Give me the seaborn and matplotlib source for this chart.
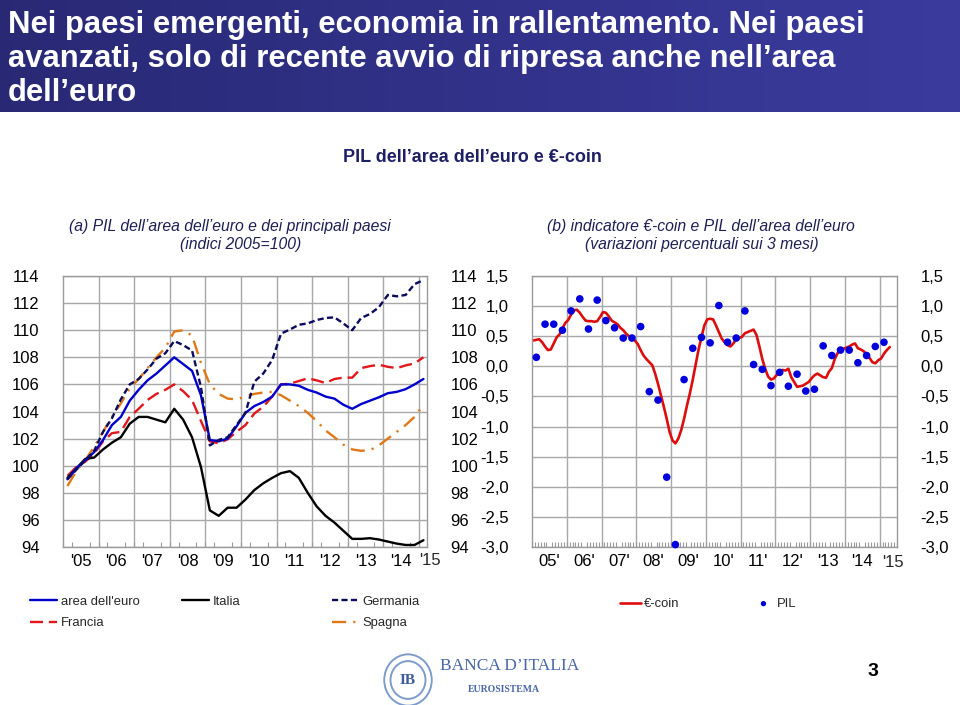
import matplotlib
matplotlib.use("Agg")
import matplotlib.pyplot as plt
from matplotlib import font_manager as fm
from matplotlib.patches import Ellipse
import numpy as np
import pandas as pd
import seaborn as sns

# ---------------- data ----------------
years = list(range(2005, 2016))
quarters = [f"{y}Q{q}" for y in years for q in (1, 2, 3, 4)][:41]

area_euro = [99.0, 99.8, 100.4, 101.0, 101.9, 103.0, 103.6, 104.8, 105.6, 106.3,
             106.8, 107.4, 108.0, 107.5, 107.0, 105.2, 101.9, 101.8, 102.0, 102.9,
             103.9, 104.4, 104.7, 105.1, 106.0, 106.0, 105.9, 105.6, 105.4, 105.1,
             104.95, 104.5, 104.2, 104.55, 104.8, 105.05, 105.35, 105.45, 105.65, 106.0,
             106.4]
italia = [99.1, 99.8, 100.5, 100.6, 101.2, 101.7, 102.1, 103.1, 103.6, 103.6,
          103.4, 103.2, 104.2, 103.4, 102.1, 99.9, 96.7, 96.3, 96.9, 96.9,
          97.5, 98.2, 98.7, 99.1, 99.45, 99.6, 99.1, 98.0, 97.0, 96.3,
          95.8, 95.2, 94.6, 94.6, 94.65, 94.55, 94.4, 94.25, 94.15, 94.15,
          94.5]
germania = [99.0, 99.7, 100.4, 101.1, 102.5, 103.5, 104.9, 106.0, 106.4, 107.1,
            107.9, 108.3, 109.2, 108.9, 108.5, 105.8, 101.5, 101.9, 102.1, 103.0,
            103.9, 106.2, 106.8, 107.8, 109.75, 110.05, 110.4, 110.5, 110.75, 110.9,
            110.95, 110.5, 110.0, 110.9, 111.2, 111.7, 112.6, 112.5, 112.6, 113.4,
            113.7]
francia = [99.25, 99.9, 100.3, 100.9, 101.8, 102.4, 102.5, 103.6, 104.2, 104.85,
           105.3, 105.6, 106.0, 105.5, 104.85, 103.3, 101.8, 101.65, 101.95, 102.5,
           103.0, 103.85, 104.35, 105.1, 106.0, 106.05, 106.25, 106.45, 106.3, 106.1,
           106.4, 106.5, 106.5, 107.2, 107.35, 107.45, 107.3, 107.2, 107.4, 107.55,
           108.0]
spagna = [98.5, 99.6, 100.4, 101.4, 102.5, 103.6, 104.6, 105.7, 106.4, 107.2,
          108.0, 108.7, 109.9, 110.0, 109.6, 107.6, 106.0, 105.3, 104.95, 104.9,
          105.1, 105.3, 105.4, 105.45, 105.2, 104.8, 104.4, 103.9, 103.3, 102.6,
          102.1, 101.55, 101.2, 101.1, 101.15, 101.5, 102.0, 102.5, 103.0, 103.6,
          104.5]

# monthly €-coin, Jan 2005 - Apr 2015
ecoin = [0.43, 0.44, 0.45, 0.40, 0.33, 0.27, 0.28, 0.38, 0.48, 0.53, 0.63, 0.72,
         0.77, 0.86, 0.93, 0.94, 0.89, 0.82, 0.76, 0.75, 0.75, 0.74, 0.75, 0.82,
         0.90, 0.89, 0.83, 0.76, 0.73, 0.70, 0.64, 0.60, 0.54, 0.50, 0.47, 0.43,
         0.37, 0.27, 0.18, 0.12, 0.07, 0.02, -0.12, -0.29, -0.48, -0.67, -0.87, -1.09,
         -1.23, -1.28, -1.20, -1.06, -0.87, -0.65, -0.45, -0.22, 0.03, 0.28, 0.48, 0.68,
         0.78, 0.79, 0.78, 0.68, 0.57, 0.46, 0.40, 0.35, 0.33, 0.38, 0.45, 0.47,
         0.49, 0.55, 0.57, 0.59, 0.61, 0.52, 0.33, 0.12, -0.04, -0.17, -0.22, -0.20,
         -0.14, -0.12, -0.06, -0.07, -0.04, -0.18, -0.26, -0.34, -0.33, -0.32, -0.29, -0.26,
         -0.20, -0.15, -0.12, -0.15, -0.18, -0.19, -0.09, -0.03, 0.12, 0.22, 0.27, 0.29,
         0.31, 0.33, 0.36, 0.38, 0.30, 0.28, 0.25, 0.20, 0.14, 0.07, 0.05, 0.10,
         0.13, 0.21, 0.27, 0.32]
# quarterly GDP q/q % change, 2005Q1 - 2015Q1
pil = [0.15, 0.70, 0.70, 0.60, 0.92, 1.12, 0.62, 1.10, 0.76, 0.64,
       0.47, 0.47, 0.66, -0.42, -0.56, -1.84, -2.96, -0.22, 0.30, 0.48,
       0.39, 1.01, 0.40, 0.47, 0.92, 0.03, -0.05, -0.32, -0.10, -0.33,
       -0.13, -0.41, -0.38, 0.34, 0.18, 0.27, 0.27, 0.06, 0.18, 0.33,
       0.40]

left_yticks = [94, 96, 98, 100, 102, 104, 106, 108, 110, 112, 114]
left_xlabels = ["'05", "'06", "'07", "'08", "'09", "'10", "'11", "'12", "'13", "'14", "'15"]
right_yticks = [-3.0, -2.5, -2.0, -1.5, -1.0, -0.5, 0.0, 0.5, 1.0, 1.5]
right_ylabels = ["-3,0", "-2,5", "-2,0", "-1,5", "-1,0", "-0,5", "0,0", "0,5", "1,0", "1,5"]
right_xlabels = ["05'", "06'", "07'", "08'", "09'", "10'", "11'", "12'", "'13", "'14", "'15"]

# ---------------- style ----------------
sns.set_theme(style="white")
avail = {f.name for f in fm.fontManager.ttflist}
HAS_NARROW = "Liberation Sans Narrow" in avail
NARROW = "Liberation Sans Narrow" if HAS_NARROW else "Liberation Sans"
if HAS_NARROW:
    FS_TITLE, FS_SUB, FS_PANEL, FS_LEG = 24, 13.5, 11.2, 10.5
else:
    FS_TITLE, FS_SUB, FS_PANEL, FS_LEG = 22.3, 13.0, 11.3, 9.4
plt.rcParams["font.family"] = ["Liberation Sans", "DejaVu Sans"]

W, H = 960, 705
fig = plt.figure(figsize=(W / 100, H / 100), dpi=100)
fig.patch.set_facecolor("white")


def fx(x):
    return x / W


def fy(y):
    return 1 - y / H


# ---------------- banner ----------------
bax = fig.add_axes([0, fy(112), 1, 112 / H])
c0 = np.array([0.16, 0.16, 0.46])
c1 = np.array([0.23, 0.23, 0.62])
t = np.linspace(0, 1, 256)[None, :, None]
grad = c0 + (c1 - c0) * t
bax.imshow(grad, aspect="auto", extent=[0, 1, 0, 1])
bax.axis("off")

title_lines = ["Nei paesi emergenti, economia in rallentamento. Nei paesi",
               "avanzati, solo di recente avvio di ripresa anche nell\u2019area",
               "dell\u2019euro"]
for yy, line in zip([25, 59, 93], title_lines):
    fig.text(fx(8), fy(yy), line, color="white", fontsize=FS_TITLE,
             fontweight="bold", family=[NARROW, "DejaVu Sans"], ha="left", va="center")

fig.text(fx(472), fy(158), "PIL dell\u2019area dell\u2019euro e \u20ac-coin", color="#1f1f66",
         fontsize=FS_SUB, fontweight="bold", family=[NARROW, "DejaVu Sans"],
         ha="center", va="center")

sub_col = "#1e1e55"
fig.text(fx(230), fy(227), "(a) PIL dell\u2019area dell\u2019euro e dei principali paesi",
         color=sub_col, fontsize=FS_PANEL, style="italic", family=[NARROW, "DejaVu Sans"],
         ha="center", va="center")
fig.text(fx(241), fy(244), "(indici 2005=100)", color=sub_col, fontsize=FS_PANEL,
         style="italic", family=[NARROW, "DejaVu Sans"], ha="center", va="center")
fig.text(fx(701), fy(227), "(b) indicatore \u20ac-coin e PIL dell\u2019area dell\u2019euro",
         color=sub_col, fontsize=FS_PANEL, style="italic", family=[NARROW, "DejaVu Sans"],
         ha="center", va="center")
fig.text(fx(702), fy(244), "(variazioni percentuali sui 3 mesi)", color=sub_col,
         fontsize=FS_PANEL, style="italic", family=[NARROW, "DejaVu Sans"],
         ha="center", va="center")

GRID = "#a8a8a8"
SPINE = "#9a9a9a"

# ---------------- left panel ----------------
axL = fig.add_axes([fx(63), fy(547), fx(427) - fx(63), (547 - 276) / H])
dfL = pd.DataFrame({"t": np.arange(len(quarters)), "quarter": quarters,
                    "area dell'euro": area_euro, "Italia": italia,
                    "Germania": germania, "Francia": francia, "Spagna": spagna})
series = [("Spagna", "#e07818", [6.0, 3.0, 0.9, 3.0]),
          ("Francia", "#e3161c", [5.5, 2.5]),
          ("Italia", "#000000", None),
          ("area dell'euro", "#0000cc", None),
          ("Germania", "#0a0a5e", [2.6, 1.4])]
handles = {}
for name, col, dash in series:
    sns.lineplot(data=dfL, x="t", y=name, ax=axL, color=col, linewidth=1.7, legend=False)
    ln = axL.lines[-1]
    ln.set_label(name)
    if dash is not None:
        ln.set_dashes(dash)
    handles[name] = ln

axL.set_xlim(-0.5, 40.4)
axL.set_ylim(94, 114)
axL.set_yticks(left_yticks)
axL.set_yticklabels([str(v) for v in left_yticks])
axL.yaxis.grid(True, color=GRID, lw=1)
axL.xaxis.grid(False)
axL.set_axisbelow(True)
for k in range(1, 11):
    axL.axvline(4 * k - 0.5, color=GRID, lw=1, zorder=0.5)
axL.set_xticks([4 * k + 1.5 for k in range(10)])
axL.set_xticklabels(left_xlabels[:10])
axL.set_xticks(np.arange(-0.5, 40.5, 1.0), minor=True)
axL.annotate(left_xlabels[10], xy=(40.75, 0), xycoords=("data", "axes fraction"),
             xytext=(0, -4.5), textcoords="offset points", ha="center", va="top",
             fontsize=12, annotation_clip=False)

# ---------------- right panel ----------------
axR = fig.add_axes([fx(532), fy(547), fx(897) - fx(532), (547 - 276) / H])
dfE = pd.DataFrame({"m": np.arange(len(ecoin)) + 0.5, "ecoin": ecoin})
dfP = pd.DataFrame({"q": np.arange(len(pil)) * 3 + 1.5, "pil": pil})
sns.lineplot(data=dfE, x="m", y="ecoin", ax=axR, color="#dd0d0d", linewidth=1.9, legend=False)
ln_e = axR.lines[-1]
ln_e.set_label("\u20ac-coin")
sns.scatterplot(data=dfP, x="q", y="pil", ax=axR, color="#0000dd", s=30,
                edgecolor="none", legend=False, zorder=3, clip_on=False)
sc_p = axR.collections[-1]
sc_p.set_label("PIL")

axR.set_xlim(0, 126)
axR.set_ylim(-3.0, 1.5)
axR.set_yticks(right_yticks)
axR.set_yticklabels(right_ylabels)
axR.yaxis.grid(True, color=GRID, lw=1)
axR.xaxis.grid(False)
axR.set_axisbelow(True)
for k in range(1, 11):
    axR.axvline(12 * k, color=GRID, lw=1, zorder=0.5)
axR.set_xticks([12 * k + 6 for k in range(10)])
axR.set_xticklabels(right_xlabels[:10])
axR.set_xticks(np.arange(0, 127, 1.0), minor=True)
axR.annotate(right_xlabels[10], xy=(124.5, 0), xycoords=("data", "axes fraction"),
             xytext=(0, -6), textcoords="offset points", ha="center", va="top",
             fontsize=12, annotation_clip=False)

for ax in (axL, axR):
    ax.set_xlabel("")
    ax.set_ylabel("")
    ax.set_facecolor("white")
    for sp in ax.spines.values():
        sp.set_visible(True)
        sp.set_color(SPINE)
        sp.set_linewidth(1)
    ax.tick_params(axis="y", which="major", left=False, right=False,
                   labelleft=True, labelright=True, pad=11, labelsize=12, labelcolor="black")
    ax.tick_params(axis="x", which="major", bottom=False, length=0, pad=5,
                   labelsize=12, labelcolor="black")
    ax.tick_params(axis="x", which="minor", bottom=True, direction="in",
                   length=3.5, width=0.8, color=SPINE)

# ---------------- legends ----------------
leg_kw = dict(frameon=False, borderpad=0, borderaxespad=0, handlelength=2.1,
              handletextpad=0.25, labelspacing=0.72,
              prop={"family": [NARROW, "DejaVu Sans"], "size": FS_LEG})
lg1 = fig.legend(handles=[handles["area dell'euro"], handles["Francia"]],
                 labels=["area dell'euro", "Francia"], loc="upper left",
                 bbox_to_anchor=(fx(30), fy(595.5)), **leg_kw)
lg2 = fig.legend(handles=[handles["Italia"]], labels=["Italia"], loc="upper left",
                 bbox_to_anchor=(fx(182), fy(595.5)), **leg_kw)
lg3 = fig.legend(handles=[handles["Germania"], handles["Spagna"]],
                 labels=["Germania", "Spagna"], loc="upper left",
                 bbox_to_anchor=(fx(332), fy(595.5)), **leg_kw)
leg_kw2 = dict(leg_kw)
leg_kw2["handlelength"] = 1.6
lg4 = fig.legend(handles=[ln_e], labels=["\u20ac-coin"], loc="center left",
                 bbox_to_anchor=(fx(620), fy(604)), **leg_kw2)
lg5 = fig.legend(handles=[sc_p], labels=["PIL"], loc="center left", scatterpoints=1,
                 markerscale=0.7, bbox_to_anchor=(fx(753), fy(604)), **leg_kw2)

# ---------------- footer (logo + page) ----------------
lax = fig.add_axes([fx(383), fy(707), 50 / W, 54 / H])
lax.set_xlim(0, 1)
lax.set_ylim(0, 1)
lax.axis("off")
for (cx, cy, w, h) in [(0.5, 0.5, 0.95, 0.95), (0.5, 0.5, 0.7, 0.7)]:
    lax.add_patch(Ellipse((cx, cy), w, h, fill=False, ec="#7d9ccc", lw=1.4))
lax.text(0.5, 0.5, "IB", ha="center", va="center", color="#3d5a9c",
         fontsize=11, family=["Liberation Serif", "DejaVu Serif"], fontweight="bold")
fig.text(fx(440), fy(666), "BANCA D\u2019ITALIA", color="#4866a8", fontsize=12.5,
         family=["Liberation Serif", "DejaVu Serif"], ha="left", va="center")
fig.text(fx(504), fy(690), "EUROSISTEMA", color="#4866a8", fontsize=7,
         family=["Liberation Serif", "DejaVu Serif"], fontweight="bold",
         ha="center", va="center")
fig.text(fx(873), fy(672), "3", color="black", fontsize=14, fontweight="bold",
         ha="center", va="center")

fig.savefig("out.png", dpi=100, facecolor="white")
